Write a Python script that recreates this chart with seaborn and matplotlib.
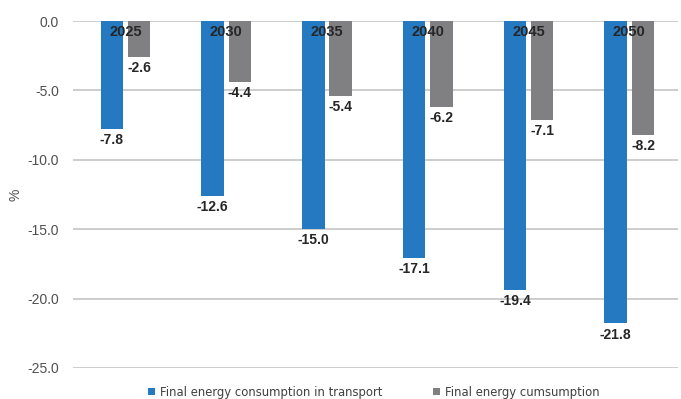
import matplotlib
matplotlib.use("Agg")
import matplotlib.pyplot as plt
import seaborn as sns
import pandas as pd

years = ["2025", "2030", "2035", "2040", "2045", "2050"]
transport = [-7.8, -12.6, -15.0, -17.1, -19.4, -21.8]
total = [-2.6, -4.4, -5.4, -6.2, -7.1, -8.2]
series_names = ["Final energy consumption in transport", "Final energy cumsumption"]
y_ticks = [0.0, -5.0, -10.0, -15.0, -20.0, -25.0]

df = pd.DataFrame({
    "year": years * 2,
    "value": transport + total,
    "series": [series_names[0]] * len(years) + [series_names[1]] * len(years),
})

sns.set_theme(style="white")
plt.rcParams["font.family"] = ["DejaVu Sans"]

fig = plt.figure(figsize=(6.81, 3.99), dpi=100)
ax = fig.add_axes([0.1072, 0.078, 0.888, 0.869])

palette = ["#2479C1", "#808083"]
sns.barplot(data=df, x="year", y="value", hue="series", palette=palette,
            width=0.54, gap=0.17, saturation=1, linewidth=0, ax=ax, legend=True)

ax.set_xlim(-0.52, 5.48)
ax.set_ylim(-25, 0)
ax.set_yticks(y_ticks)
ax.set_yticklabels([f"{t:.1f}" for t in y_ticks], fontsize=10,
                   family="Liberation Sans", color="#505050")
ax.tick_params(axis="y", length=0, pad=10)
ax.set_xticks([])
ax.set_xlabel("")
ax.set_ylabel("%", fontsize=10, family="Liberation Sans", color="#505050")
ax.yaxis.set_label_coords(-0.084, 0.5)
for s in ax.spines.values():
    s.set_visible(False)
ax.yaxis.grid(True, color="#C9C9C9", linewidth=1.3)
ax.set_axisbelow(True)

# value labels below each bar end
for container in ax.containers:
    for bar in container:
        h = bar.get_height()
        ax.annotate(f"{h:.1f}", (bar.get_x() + bar.get_width() / 2, h),
                    xytext=(0, -3), textcoords="offset points",
                    ha="center", va="top", fontsize=10, fontweight="bold",
                    family="Liberation Sans", color="#262626")

# year labels just under the zero line
for i, y in enumerate(years):
    ax.text(i, -0.25, y, ha="center", va="top", fontsize=10.5, fontweight="bold",
            family="Liberation Sans", color="#262626")

handles, labels = ax.get_legend_handles_labels()
ax.get_legend().remove()
fig.legend(handles, labels, loc="lower center", bbox_to_anchor=(0.549, -0.025),
           ncol=2, frameon=False, fontsize=8.35, handlelength=0.6, handleheight=0.6,
           handletextpad=0.5, columnspacing=4.3, labelcolor="#404040")

fig.savefig("out.png", dpi=100)
